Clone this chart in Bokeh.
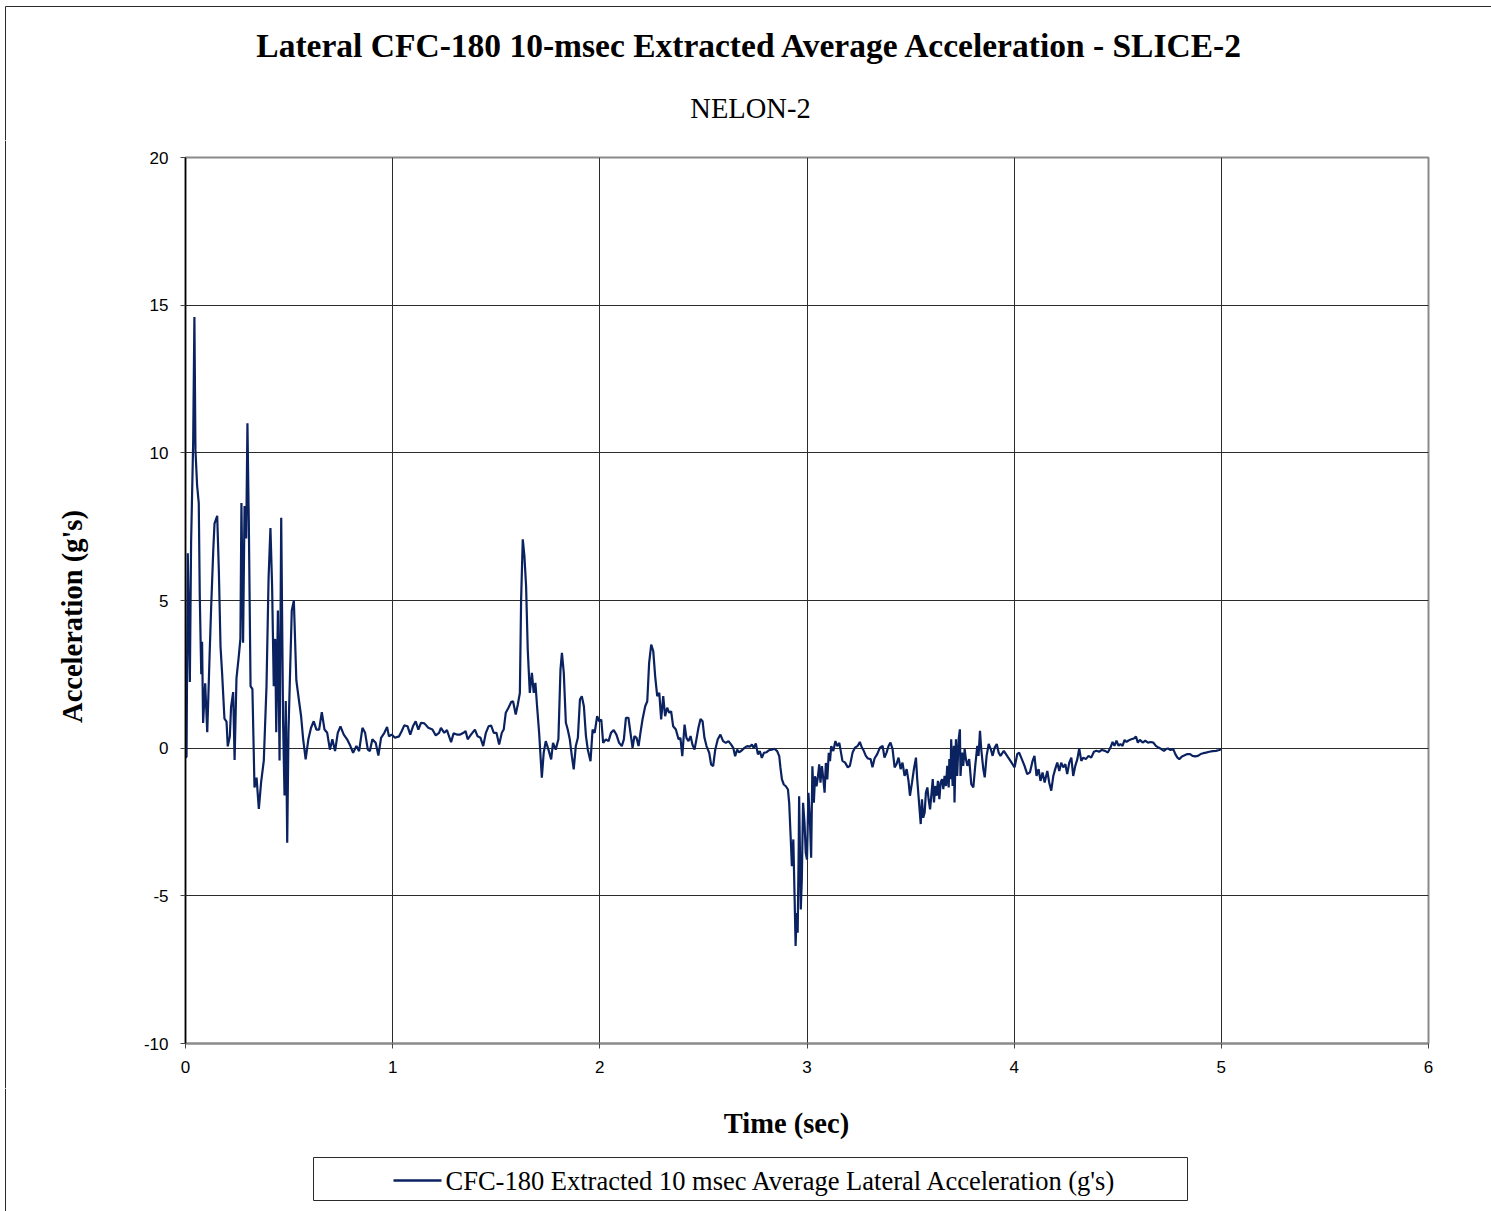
from bokeh.plotting import figure
from bokeh.layouts import column, row
from bokeh.models import Range1d, FixedTicker
from bokeh.core.properties import value
from bokeh.embed import file_html
from bokeh.resources import INLINE
import math

title_text = "Lateral CFC-180 10-msec Extracted Average Acceleration - SLICE-2"
subtitle_text = "NELON-2"
x_label = "Time (sec)"
y_label = "Acceleration (g's)"
legend_label = "CFC-180 Extracted 10 msec Average Lateral Acceleration (g's)"
x_ticks = [0, 1, 2, 3, 4, 5, 6]
y_ticks = [-10, -5, 0, 5, 10, 15, 20]
y_tick_text = {-10: "-10", -5: "-5", 0: "0", 5: "5", 10: "10", 15: "15", 20: "20"}

time_s = [
    0.0, 0.005, 0.011, 0.021, 0.027, 0.037, 0.043, 0.048, 0.056, 0.064, 0.069, 0.076, 0.080, 0.085, 0.095,
    0.105, 0.117, 0.124, 0.134, 0.140, 0.153, 0.161, 0.169, 0.177, 0.188, 0.198, 0.204, 0.214, 0.220,
    0.230, 0.237, 0.246, 0.257, 0.265, 0.270, 0.278, 0.285, 0.293, 0.299, 0.306, 0.314, 0.323, 0.333,
    0.343, 0.354, 0.365, 0.378, 0.391, 0.401, 0.410, 0.418, 0.426, 0.433, 0.438, 0.446, 0.454, 0.462,
    0.471, 0.478, 0.484, 0.491, 0.497, 0.504, 0.513, 0.523,
    0.535, 0.547, 0.558, 0.568, 0.580, 0.593, 0.606, 0.619, 0.632, 0.645, 0.658, 0.671, 0.684, 0.697,
    0.709, 0.722, 0.735, 0.748, 0.764, 0.780, 0.796, 0.809, 0.825, 0.838, 0.854, 0.867, 0.880, 0.890,
    0.902, 0.918, 0.931, 0.944, 0.960, 0.973, 0.982, 0.995, 1.011, 1.031, 1.044, 1.056, 1.072, 1.085,
    1.098, 1.111, 1.124, 1.137, 1.153, 1.172, 1.192, 1.208, 1.224, 1.233, 1.249, 1.262, 1.282, 1.294,
    1.310, 1.326, 1.342, 1.352, 1.362, 1.378, 1.397, 1.410,
    1.424, 1.437, 1.450, 1.463, 1.475, 1.488, 1.501, 1.514, 1.527, 1.536, 1.546, 1.559, 1.572, 1.581,
    1.594, 1.604, 1.614, 1.620, 1.628, 1.636, 1.644, 1.652, 1.662, 1.672, 1.681, 1.689, 1.697, 1.707,
    1.720, 1.729, 1.739, 1.752, 1.765, 1.774, 1.787, 1.800, 1.810, 1.817, 1.826, 1.836, 1.845, 1.855,
    1.865, 1.874, 1.884, 1.894, 1.904, 1.913, 1.923, 1.933, 1.942, 1.955, 1.965, 1.975, 1.987, 1.997,
    2.007, 2.016, 2.029, 2.042, 2.054, 2.067, 2.080, 2.093, 2.106, 2.116, 2.126, 2.138, 2.148, 2.158,
    2.167, 2.177, 2.187, 2.196, 2.206, 2.219, 2.229, 2.238, 2.248, 2.258, 2.267, 2.277, 2.287, 2.296,
    2.306, 2.315, 2.325, 2.335, 2.344, 2.354, 2.367, 2.380, 2.389,
    2.398, 2.409, 2.418, 2.428, 2.438, 2.447, 2.457, 2.466, 2.476, 2.486, 2.496, 2.505, 2.515, 2.528,
    2.537, 2.547, 2.557, 2.569, 2.582, 2.595, 2.608, 2.621, 2.634, 2.644, 2.653, 2.663, 2.672, 2.686,
    2.698, 2.711, 2.724, 2.734, 2.743, 2.753, 2.763, 2.772, 2.782, 2.792, 2.804, 2.817, 2.830, 2.843,
    2.856, 2.866, 2.872, 2.879, 2.888, 2.898, 2.908, 2.914, 2.921, 2.927, 2.934, 2.940, 2.945, 2.950,
    2.955, 2.960, 2.962, 2.966, 2.970, 2.975, 2.981, 2.988, 2.994, 3.000, 3.007, 3.014, 3.020, 3.026,
    3.033, 3.039, 3.046, 3.053, 3.059, 3.065, 3.072, 3.079, 3.085, 3.091, 3.098, 3.105, 3.111, 3.117,
    3.127, 3.137, 3.146, 3.156,
    3.171, 3.184, 3.197, 3.207, 3.220, 3.232, 3.245, 3.255, 3.265, 3.274, 3.284, 3.294, 3.307, 3.316,
    3.326, 3.339, 3.352, 3.365, 3.374, 3.384, 3.394, 3.403, 3.413, 3.423, 3.432, 3.442, 3.452, 3.461,
    3.471, 3.481, 3.490, 3.497, 3.507, 3.516, 3.526, 3.532, 3.542, 3.549, 3.555, 3.561, 3.568, 3.574,
    3.581, 3.587, 3.594, 3.600, 3.607, 3.613, 3.619, 3.626, 3.632, 3.639, 3.645, 3.652, 3.658, 3.664,
    3.671, 3.677, 3.684, 3.687, 3.693, 3.696, 3.703, 3.709, 3.712, 3.719, 3.725, 3.732, 3.738, 3.741,
    3.748, 3.754, 3.761, 3.767, 3.774, 3.783, 3.793, 3.803, 3.812, 3.822, 3.828, 3.835, 3.841, 3.851,
    3.858, 3.867, 3.877, 3.887, 3.896, 3.906, 3.916, 3.925,
    3.934, 3.950, 3.966, 3.982, 4.002, 4.015, 4.024, 4.037, 4.050, 4.063, 4.076, 4.089, 4.098, 4.108,
    4.118, 4.127, 4.137, 4.147, 4.160, 4.169, 4.179, 4.189, 4.198, 4.208, 4.218, 4.227, 4.237, 4.247,
    4.256, 4.266, 4.276, 4.285, 4.295, 4.305, 4.314, 4.324, 4.334, 4.346, 4.359, 4.372, 4.385, 4.397,
    4.410, 4.423, 4.439, 4.452, 4.465, 4.475, 4.484, 4.494, 4.504, 4.513, 4.523, 4.533, 4.542, 4.552,
    4.565, 4.578, 4.588, 4.597, 4.607, 4.620, 4.633, 4.646, 4.659, 4.672, 4.684, 4.697, 4.710, 4.723,
    4.733, 4.742, 4.755, 4.768, 4.778, 4.788, 4.797, 4.810, 4.823, 4.836, 4.849, 4.861, 4.874, 4.887,
    4.900, 4.913, 4.926, 4.942, 4.958, 4.974, 4.990, 5.000,
]

accel_g = [
    -0.3, -0.3, 6.6, 2.24, 6.96, 10.35, 14.6, 10.1, 8.9, 8.3, 5.1, 2.5, 3.6, 0.85, 2.2,
    0.54, 3.3, 4.8, 6.7, 7.6, 7.87, 6.0, 3.45, 2.5, 1.0, 0.9, 0.06, 0.4, 1.4,
    1.9, -0.4, 2.36, 3.1, 3.7, 8.3, 3.57, 8.2, 7.1, 11.0, 7.4, 2.1, 2.0, -1.33,
    -1.0, -2.06, -1.15, -0.42, 2.1, 5.75, 7.45, 5.5, 2.1, 3.7, 0.54, 4.66, -0.42, 7.8,
    0.9, -1.6, 1.6, -3.2, 0.54, 2.36, 4.66, 5.0,
    2.3, 1.65, 1.08, 0.3, -0.38, 0.3, 0.69, 0.91, 0.63, 0.63, 1.22, 0.63, 0.52, -0.05,
    0.3, -0.1, 0.52, 0.74, 0.46, 0.3, 0.07, -0.16, 0.07, -0.1, 0.69, 0.52, -0.05, -0.1,
    0.3, 0.18, -0.25, 0.35, 0.52, 0.72, 0.4, 0.46, 0.35, 0.4, 0.58, 0.77, 0.74, 0.46,
    0.74, 0.91, 0.63, 0.86, 0.84, 0.69, 0.63, 0.43, 0.52, 0.69, 0.52, 0.61, 0.2, 0.5,
    0.46, 0.46, 0.52, 0.58, 0.3, 0.46, 0.63, 0.4,
    0.35, 0.07, 0.52, 0.74, 0.77, 0.52, 0.52, 0.12, 0.52, 0.63, 1.2, 1.37, 1.56, 1.59,
    1.14, 1.48, 1.87, 5.03, 7.07, 6.5, 5.49, 3.34, 1.87, 2.55, 1.87, 2.21, 1.42, 0.52,
    -1.0, -0.16, 0.24, -0.05, -0.38, 0.18, -0.05, 0.3, 2.66, 3.23, 2.55, 0.86, 0.63, 0.3,
    -0.27, -0.72, 0.07, 0.35, 1.65, 1.76, 1.42, 0.41, -0.05, -0.44, 0.63, 0.52, 1.08, 0.91,
    0.97, 0.18, 0.3, 0.24, 0.52, 0.61, 0.46, 0.18, 0.07, 0.3, 1.03, 1.03, 0.52, 0.01,
    0.41, 0.35, 0.07, 0.52, 0.97, 1.42, 1.59, 2.89, 3.51, 3.28, 2.44, 1.76, 1.87, 0.97,
    1.76, 1.08, 1.37, 1.2, 1.25, 0.74, 0.63, 0.3, 0.35,
    -0.27, 0.8, 0.35, 0.24, 0.41, 0.12, -0.05, 0.29, 0.69, 0.99, 0.91, 0.35, 0.07, -0.16,
    -0.55, -0.61, -0.05, 0.29, 0.46, 0.24, 0.18, 0.24, 0.12, 0.01, -0.27, -0.05, -0.14, -0.07,
    0.01, 0.07, 0.05, 0.12, 0.01, 0.16, -0.21, -0.1, -0.33, -0.16, -0.14, -0.07, -0.05, -0.02,
    -0.1, -0.27, -0.67, -1.06, -1.23, -1.29, -1.4, -1.85, -2.98, -4.0, -3.09, -5.01, -6.7, -5.58,
    -6.25, -3.32, -1.63, -3.54, -5.46, -4.45, -1.85, -2.53, -3.54, -3.77, -1.51, -2.42, -3.71, -0.61,
    -1.85, -0.95, -1.29, -0.95, -0.55, -1.17, -0.61, -1.06, -1.51, -0.5, -1.06, -0.16, -0.44, 0.07,
    -0.1, 0.24, 0.07, 0.18,
    -0.43, -0.49, -0.65, -0.6, -0.15, 0.02, 0.08, 0.21, 0.02, -0.09, -0.26, -0.35, -0.37, -0.65,
    -0.35, -0.2, 0.02, 0.08, -0.32, -0.15, 0.08, 0.19, -0.03, -0.65, -0.54, -0.32, -0.71, -0.49,
    -0.94, -0.71, -1.11, -1.61, -1.16, -0.71, -0.32, -1.05, -1.95, -2.57, -1.73, -2.35, -2.18, -1.5,
    -1.33, -1.73, -2.07, -1.61, -1.05, -1.84, -1.28, -1.61, -1.11, -1.73, -1.16, -1.05, -1.39, -0.94,
    -1.28, -0.6, -1.33, -0.37, -1.05, 0.3, -1.28, 0.08, -1.84, 0.3, -0.94, 0.3, 0.64, -0.94,
    -0.15, -0.6, -0.03, -0.37, -0.6, -0.37, -1.22, -1.33, -0.6, 0.08, -0.26, 0.59, -0.03, -0.71,
    -0.99, -0.26, 0.14, -0.03, -0.26, 0.02, 0.14, -0.15,
    -0.26, -0.09, -0.26, -0.43, -0.65, -0.2, -0.15, -0.37, -0.6, -0.88, -0.82, -0.43, -0.26, -0.94,
    -0.71, -1.11, -0.82, -1.16, -0.77, -1.16, -1.44, -0.94, -0.71, -0.49, -0.77, -0.49, -0.65, -0.54,
    -0.88, -0.49, -0.32, -0.94, -0.6, -0.37, -0.01, -0.43, -0.32, -0.37, -0.26, -0.32, -0.12, -0.09,
    -0.12, -0.06, -0.09, -0.15, 0.02, 0.21, 0.08, 0.25, 0.08, 0.14, 0.08, 0.28, 0.21, 0.26,
    0.3, 0.33, 0.39, 0.19, 0.28, 0.19, 0.25, 0.19, 0.21, 0.19, 0.08, 0.02, -0.03, -0.09,
    -0.03, -0.01, -0.06, -0.03, -0.2, -0.32, -0.37, -0.28, -0.24, -0.2, -0.2, -0.26, -0.28, -0.26,
    -0.2, -0.17, -0.15, -0.12, -0.1, -0.09, -0.06, -0.03,
]

LINE_COLOR = "#0b2260"
SERIF = "Liberation Serif"
SANS = "Liberation Sans"
BORDER = "#2a2a2a"

W, H = 1491, 1211
TOP_H = 140
LEFT_W = 110
MID_H = 948
BOT_H = H - TOP_H - MID_H


def blank(width, height, x0, x1, y0, y1):
    f = figure(width=width, height=height, x_range=Range1d(x0, x1), y_range=Range1d(y1, y0),
               x_axis_location=None, y_axis_location=None, min_border=0,
               output_backend="svg", toolbar_location=None,
               background_fill_color="white", border_fill_color="white")
    f.outline_line_color = None
    f.grid.visible = False
    f.frame_align = False
    return f


# ---- title area ----
top = blank(W, TOP_H, 0, W, 0, TOP_H)
top.line([5, W], [6, 6], line_color=BORDER, line_width=1)
top.line([5, 5], [6, TOP_H], line_color=BORDER, line_width=1)
top.text(x=[750], y=[45], text=[title_text], text_font=value(SERIF), text_font_size="33.5px",
         text_font_style="bold", text_align="center", text_baseline="middle", text_color="black")
top.text(x=[750], y=[108], text=[subtitle_text], text_font=value(SERIF), text_font_size="28.5px",
         text_align="center", text_baseline="middle", text_color="black")

# ---- y label area ----
left = blank(LEFT_W, MID_H, 0, LEFT_W, TOP_H, TOP_H + MID_H)
left.line([5, 5], [TOP_H, TOP_H + MID_H], line_color=BORDER, line_width=1)
left.text(x=[72], y=[616], text=[y_label], text_font=value(SERIF), text_font_size="28.5px",
          text_font_style="bold", text_align="center", text_baseline="middle",
          angle=math.pi / 2, text_color="black")

# ---- main chart ----
p = figure(
    frame_width=1243, frame_height=886,
    min_border_left=75, min_border_right=63, min_border_top=17, min_border_bottom=45,
    x_range=Range1d(0, 6), y_range=Range1d(-10, 20),
    output_backend="svg", toolbar_location=None,
    background_fill_color="white", border_fill_color="white",
)
p.frame_align = False
p.line(time_s, accel_g, line_color=LINE_COLOR, line_width=2.2)

p.xaxis.ticker = FixedTicker(ticks=x_ticks)
p.yaxis.ticker = FixedTicker(ticks=y_ticks)
p.yaxis.major_label_overrides = y_tick_text
for ax in (p.xaxis[0], p.yaxis[0]):
    ax.major_label_text_font = SANS
    ax.major_label_text_font_size = "17px"
    ax.major_label_text_color = "black"
    ax.minor_tick_line_color = None
    ax.major_tick_in = 0
    ax.major_tick_out = 5
    ax.major_tick_line_color = "#444444"
p.yaxis.axis_line_color = "#000000"
p.yaxis.axis_line_width = 1.5
p.xaxis.axis_line_color = "#8a8a8a"
p.xaxis.axis_line_width = 2
p.yaxis.major_label_standoff = 12
p.xaxis.major_label_standoff = 12

p.xgrid.ticker = FixedTicker(ticks=x_ticks)
p.ygrid.ticker = FixedTicker(ticks=y_ticks)
p.grid.grid_line_color = "#2b2b2b"
p.grid.grid_line_width = 1
p.outline_line_color = "#8a8a8a"
p.outline_line_width = 2

# ---- x label + legend area ----
bot = blank(W, BOT_H, 0, W, TOP_H + MID_H, H)
bot.line([5, 5], [TOP_H + MID_H, H], line_color=BORDER, line_width=1)
bot.text(x=[786], y=[1123], text=[x_label], text_font=value(SERIF), text_font_size="28.5px",
         text_font_style="bold", text_align="center", text_baseline="middle", text_color="black")
bot.quad(left=[313], right=[1187], top=[1157], bottom=[1200], fill_color="white",
         line_color=BORDER, line_width=1)
bot.line([393, 441], [1180, 1180], line_color=LINE_COLOR, line_width=2.5)
bot.text(x=[445], y=[1180], text=[legend_label], text_font=value(SERIF), text_font_size="26.5px",
         text_align="left", text_baseline="middle", text_color="black")

layout = column(top, row(left, p, spacing=0), bot, spacing=0)
open("out.html", "w").write(file_html(layout, INLINE))
